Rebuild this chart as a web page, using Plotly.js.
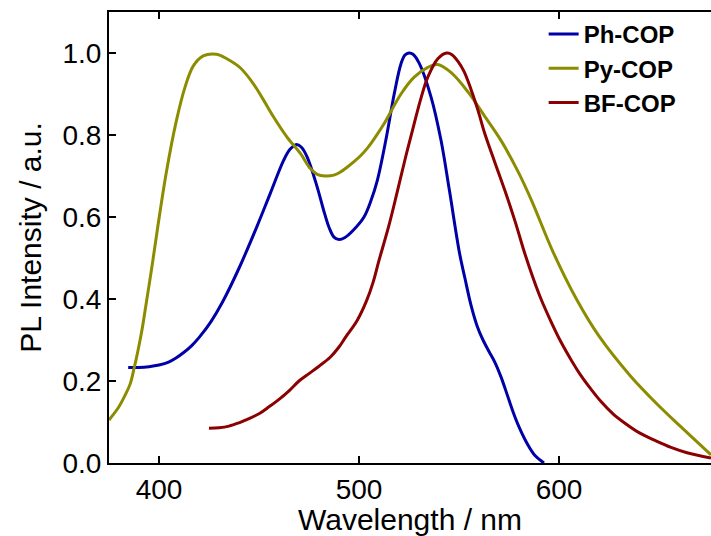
<!DOCTYPE html>
<html>
<head>
<meta charset="utf-8">
<script src="https://cdn.plot.ly/plotly-3.0.1.min.js"></script>
<style>
  html, body { margin: 0; padding: 0; background: #ffffff; }
  #chart { width: 711px; height: 536px; }
</style>
</head>
<body>
<div id="chart"></div>
<script>
// Ph-COP (blue)
const phX = [384.6, 390, 395, 400, 404.8, 408.5, 412.5, 416.5, 420.2, 426, 431.7, 440, 448.9, 455.6, 462.3, 465.5, 468.7, 471.2, 474.1, 479.1, 482, 485, 487.5, 490, 493, 497, 502.5, 506, 509.2, 513.4, 517.6, 521, 523, 525, 527, 530.2, 536, 541, 545.2, 550.3, 553, 556, 559, 562, 565, 568, 571, 574, 577, 580, 584, 588, 592.5];
const phY = [0.233, 0.233, 0.235, 0.239, 0.246, 0.256, 0.27, 0.287, 0.307, 0.345, 0.392, 0.475, 0.576, 0.657, 0.738, 0.765, 0.777, 0.77, 0.746, 0.673, 0.622, 0.575, 0.551, 0.545, 0.55, 0.567, 0.60, 0.64, 0.69, 0.787, 0.90, 0.974, 0.995, 1.0, 0.997, 0.974, 0.893, 0.787, 0.665, 0.511, 0.45, 0.385, 0.335, 0.30, 0.272, 0.245, 0.21, 0.168, 0.125, 0.088, 0.048, 0.018, 0.0];

// Py-COP (olive)
const pyX = [375, 379.8, 383, 385.6, 387.5, 389.4, 391.5, 393.3, 396.5, 399.5, 403.7, 408.7, 412.9, 417.1, 422.1, 428.8, 433.9, 440.6, 447.2, 452.3, 457.3, 464, 470.7, 475.7, 479.1, 483, 487.4, 490.8, 494.2, 497.5, 500.9, 504.2, 507.5, 512.6, 521, 527.6, 534.4, 539.4, 546.1, 554.5, 562.8, 571.2, 579.6, 586.3, 597, 608.7, 620.2, 635.6, 649, 660.6, 676];
const pyY = [0.105, 0.136, 0.165, 0.193, 0.23, 0.272, 0.325, 0.38, 0.48, 0.58, 0.71, 0.835, 0.915, 0.968, 0.993, 0.997, 0.986, 0.964, 0.925, 0.885, 0.844, 0.795, 0.755, 0.718, 0.704, 0.70, 0.702, 0.71, 0.722, 0.735, 0.75, 0.768, 0.79, 0.828, 0.90, 0.941, 0.965, 0.972, 0.952, 0.905, 0.846, 0.785, 0.71, 0.64, 0.515, 0.40, 0.308, 0.213, 0.144, 0.09, 0.02];

// BF-COP (dark red)
const bfX = [425, 430, 435, 440, 445, 450, 455, 460, 465, 470, 475, 480, 485.6, 490, 493.3, 499, 503.8, 507, 510, 515, 519.3, 523.5, 527.6, 531, 534.4, 539.4, 543.9, 546.5, 549.4, 552.5, 556.1, 559.5, 562.8, 567.8, 572.9, 578, 582.9, 587, 591, 596, 601, 606, 611, 616, 621, 627, 633, 640, 648, 656, 664, 676];
const bfY = [0.085, 0.086, 0.09, 0.098, 0.108, 0.12, 0.137, 0.155, 0.176, 0.2, 0.218, 0.236, 0.258, 0.283, 0.307, 0.347, 0.396, 0.44, 0.494, 0.58, 0.665, 0.75, 0.828, 0.89, 0.941, 0.986, 1.0, 0.996, 0.98, 0.955, 0.91, 0.86, 0.805, 0.735, 0.665, 0.59, 0.511, 0.452, 0.40, 0.345, 0.295, 0.252, 0.213, 0.18, 0.15, 0.12, 0.097, 0.074, 0.055, 0.038, 0.025, 0.012];

const seriesNames = ['Ph-COP', 'Py-COP', 'BF-COP'];
const xTicks = [400, 500, 600];
const yTicks = [0.0, 0.2, 0.4, 0.6, 0.8, 1.0];

const colors = ['#0000a8', '#8c8c00', '#8b0000'];
const FONT = 'Liberation Sans, Arial, sans-serif';

const traces = [
  {x: phX, y: phY, name: seriesNames[0]},
  {x: pyX, y: pyY, name: seriesNames[1]},
  {x: bfX, y: bfY, name: seriesNames[2]}
].map((t, i) => Object.assign(t, {
  type: 'scatter', mode: 'lines',
  line: {color: colors[i], width: 3, shape: 'spline', smoothing: 1.0}
}));

const layout = {
  width: 711, height: 536,
  margin: {l: 109, r: 0, t: 12, b: 73},
  paper_bgcolor: '#ffffff', plot_bgcolor: '#ffffff',
  font: {family: FONT, color: '#000000'},
  showlegend: true,
  legend: {
    x: 0.722, y: 1.0, xanchor: 'left', yanchor: 'top',
    bgcolor: 'rgba(0,0,0,0)', borderwidth: 0,
    font: {family: FONT, size: 24, weight: 'bold', color: '#000000'},
    tracegroupgap: 0
  },
  xaxis: {
    range: [375, 676],
    tickvals: xTicks, ticktext: xTicks.map(String),
    ticks: 'inside', ticklen: 7, tickwidth: 2, tickcolor: '#000',
    showline: true, linewidth: 2, linecolor: '#000', mirror: 'ticks',
    showgrid: false, zeroline: false,
    tickfont: {family: FONT, size: 28, color: '#000'},
    title: {text: 'Wavelength / nm', font: {family: FONT, size: 30, color: '#000'}, standoff: 9}
  },
  yaxis: {
    range: [0, 1.1],
    tickvals: yTicks, ticktext: yTicks.map(v => v.toFixed(1)),
    ticks: 'inside', ticklen: 7, tickwidth: 2, tickcolor: '#000',
    showline: true, linewidth: 2, linecolor: '#000', mirror: false,
    showgrid: false, zeroline: false,
    tickfont: {family: FONT, size: 28, color: '#000'},
    title: {text: 'PL Intensity / a.u.', font: {family: FONT, size: 30, color: '#000'}, standoff: 12}
  }
};

Plotly.newPlot('chart', traces, layout, {displayModeBar: false, staticPlot: true});
</script>
</body>
</html>
